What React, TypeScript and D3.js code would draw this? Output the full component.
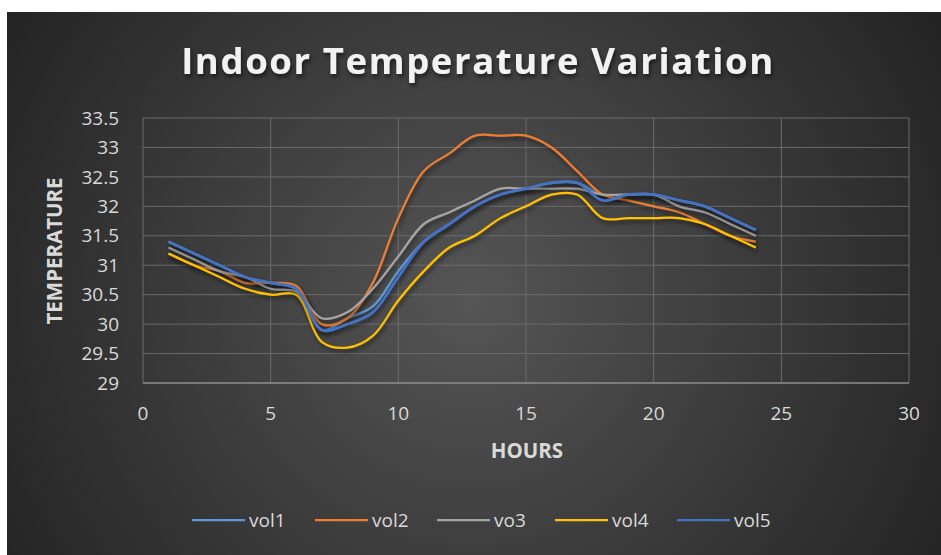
import { useEffect, useRef } from 'react';
import * as d3 from 'd3';

const hours = [1, 2, 3, 4, 5, 6, 7, 8, 9, 10, 11, 12, 13, 14, 15, 16, 17, 18, 19, 20, 21, 22, 23, 24];
const vol1 = [31.4, 31.2, 31.0, 30.8, 30.7, 30.6, 29.9, 30.1, 30.3, 30.9, 31.4, 31.7, 32.0, 32.2, 32.3, 32.4, 32.4, 32.2, 32.2, 32.2, 32.1, 32.0, 31.8, 31.6];
const vol2 = [31.2, 31.0, 30.9, 30.7, 30.7, 30.65, 30.0, 30.1, 30.7, 31.8, 32.6, 32.9, 33.2, 33.2, 33.2, 33.0, 32.6, 32.2, 32.1, 32.0, 31.9, 31.7, 31.5, 31.4];
const vo3 = [31.3, 31.1, 30.9, 30.8, 30.6, 30.55, 30.1, 30.2, 30.6, 31.15, 31.7, 31.9, 32.1, 32.3, 32.3, 32.3, 32.3, 32.2, 32.2, 32.2, 32.0, 31.9, 31.7, 31.5];
const vol4 = [31.2, 31.0, 30.8, 30.6, 30.5, 30.5, 29.7, 29.6, 29.8, 30.4, 30.9, 31.3, 31.5, 31.8, 32.0, 32.2, 32.2, 31.8, 31.8, 31.8, 31.8, 31.7, 31.5, 31.3];
const vol5 = [31.4, 31.2, 31.0, 30.8, 30.7, 30.6, 29.9, 30.0, 30.2, 30.8, 31.4, 31.7, 32.0, 32.2, 32.3, 32.4, 32.4, 32.1, 32.2, 32.2, 32.1, 32.0, 31.8, 31.6];

const seriesNames = ['vol1', 'vol2', 'vo3', 'vol4', 'vol5'];
const seriesValues = [vol1, vol2, vo3, vol4, vol5];
const colors = ['#5B9BD5', '#ED7D31', '#A5A5A5', '#FFC000', '#4472C4'];

const xTicks = [0, 5, 10, 15, 20, 25, 30];
const yTicks = [29, 29.5, 30, 30.5, 31, 31.5, 32, 32.5, 33, 33.5];

const App = () => {
    const ref = useRef<SVGSVGElement>(null);
    const width = 941,
        height = 555;

    useEffect(() => {
        const svg = d3.select(ref.current).attr('width', width).attr('height', height);
        svg.selectAll('*').remove();

        const font = "'Open Sans', sans-serif";
        const defs = svg.append('defs');

        const grad = defs
            .append('radialGradient')
            .attr('id', 'bg')
            .attr('gradientUnits', 'userSpaceOnUse')
            .attr('cx', 470)
            .attr('cy', 300)
            .attr('r', 540);
        grad.append('stop').attr('offset', '0%').attr('stop-color', '#555555');
        grad.append('stop').attr('offset', '100%').attr('stop-color', '#242424');

        const shadow = defs.append('filter').attr('id', 'shadow').attr('x', '-10%').attr('y', '-10%').attr('width', '130%').attr('height', '140%');
        shadow
            .append('feDropShadow')
            .attr('dx', 1.5)
            .attr('dy', 3)
            .attr('stdDeviation', 2)
            .attr('flood-color', '#000')
            .attr('flood-opacity', 0.55);

        // background
        svg.append('rect').attr('width', width).attr('height', height).attr('fill', '#fff');
        svg.append('rect')
            .attr('x', 7)
            .attr('y', 12)
            .attr('width', width - 7)
            .attr('height', height - 12)
            .attr('fill', 'url(#bg)');

        const x = d3.scaleLinear().domain([0, 30]).range([143, 909]);
        const y = d3.scaleLinear().domain([29, 33.5]).range([383, 118]);

        // gridlines
        const grid = svg.append('g');
        grid.selectAll('line.h')
            .data(yTicks.filter((t) => t !== 29))
            .enter()
            .append('line')
            .attr('x1', x(0))
            .attr('x2', x(30))
            .attr('y1', (d) => y(d))
            .attr('y2', (d) => y(d))
            .attr('stroke', '#6b6b6b')
            .attr('stroke-width', 1);
        grid.selectAll('line.v')
            .data(xTicks)
            .enter()
            .append('line')
            .attr('x1', (d) => x(d))
            .attr('x2', (d) => x(d))
            .attr('y1', y(33.5))
            .attr('y2', y(29))
            .attr('stroke', '#6b6b6b')
            .attr('stroke-width', 1);
        svg.append('line')
            .attr('x1', x(0))
            .attr('x2', x(30))
            .attr('y1', y(29))
            .attr('y2', y(29))
            .attr('stroke', '#8e8e8e')
            .attr('stroke-width', 1.5);

        // tick labels
        svg.append('g')
            .selectAll('text')
            .data(yTicks)
            .enter()
            .append('text')
            .attr('x', 119)
            .attr('y', (d) => y(d))
            .attr('dy', '0.35em')
            .attr('text-anchor', 'end')
            .attr('font-family', font)
            .attr('font-size', 19)
            .attr('fill', '#d9d9d9')
            .text((d) => d3.format('~g')(d));

        svg.append('g')
            .selectAll('text')
            .data(xTicks)
            .enter()
            .append('text')
            .attr('x', (d) => x(d))
            .attr('y', 413)
            .attr('dy', '0.35em')
            .attr('text-anchor', 'middle')
            .attr('font-family', font)
            .attr('font-size', 19)
            .attr('fill', '#d9d9d9')
            .text((d) => d);

        // axis titles
        svg.append('text')
            .attr('transform', 'translate(55,251) rotate(-90)')
            .attr('dy', '0.35em')
            .attr('text-anchor', 'middle')
            .attr('font-family', font)
            .attr('font-weight', 'bold')
            .attr('font-size', 20.5)
            .attr('fill', '#d9d9d9')
            .text('TEMPERATURE');

        svg.append('text')
            .attr('x', 527)
            .attr('y', 451)
            .attr('dy', '0.35em')
            .attr('text-anchor', 'middle')
            .attr('font-family', font)
            .attr('font-weight', 'bold')
            .attr('font-size', 20.5)
            .attr('fill', '#d9d9d9')
            .text('HOURS');

        // title
        svg.append('text')
            .attr('x', 478)
            .attr('y', 74)
            .attr('text-anchor', 'middle')
            .attr('font-family', font)
            .attr('font-weight', 'bold')
            .attr('font-size', 36.5)
            .attr('letter-spacing', 1.6)
            .attr('fill', '#f2f2f2')
            .attr('filter', 'url(#shadow)')
            .text('Indoor Temperature Variation');

        // lines
        const line = d3
            .line<number>()
            .x((d, i) => x(hours[i]))
            .y((d) => y(d))
            .curve(d3.curveCatmullRom.alpha(0.5));

        svg.append('g')
            .selectAll('path')
            .data(seriesValues)
            .enter()
            .append('path')
            .attr('d', (d) => line(d))
            .attr('fill', 'none')
            .attr('stroke', (d, i) => colors[i])
            .attr('stroke-width', (d, i) => (i === 4 ? 2.75 : 2.25))
            .attr('stroke-linejoin', 'round')
            .attr('filter', 'url(#shadow)');

        // legend
        const legendX = [192, 315, 437, 555, 677];
        const legend = svg
            .append('g')
            .selectAll('g')
            .data(seriesNames)
            .enter()
            .append('g')
            .attr('transform', (d, i) => `translate(${legendX[i]},520)`);
        legend
            .append('line')
            .attr('x1', 0)
            .attr('x2', 53)
            .attr('stroke', (d, i) => colors[i])
            .attr('stroke-width', 2.25);
        legend
            .append('text')
            .attr('x', 57)
            .attr('dy', '0.35em')
            .attr('font-family', font)
            .attr('font-size', 19)
            .attr('fill', '#d9d9d9')
            .text((d) => d);
    }, []);

    return <svg ref={ref} style={{ position: 'absolute', left: 0, top: 0 }}></svg>;
};

export default App;
